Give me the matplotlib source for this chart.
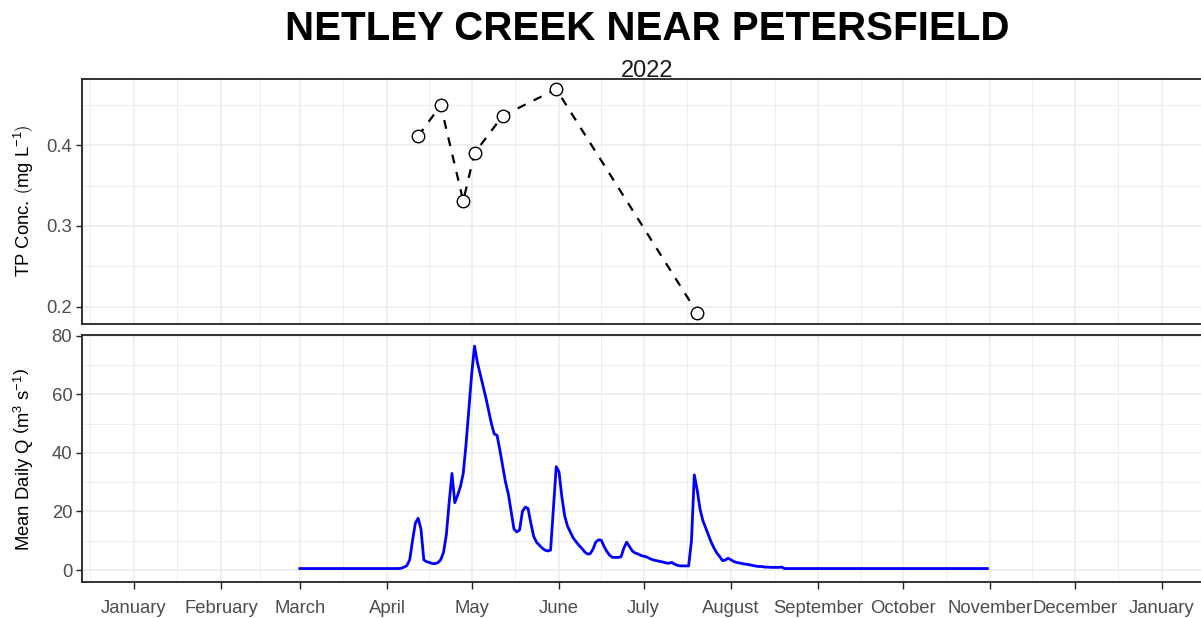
import numpy as np
import pandas as pd
import matplotlib
matplotlib.use('Agg')
import matplotlib.pyplot as plt
import matplotlib.dates as mdates

plt.rcParams['font.family'] = ['Liberation Sans', 'DejaVu Sans']
plt.rcParams['mathtext.fontset'] = 'custom'
plt.rcParams['mathtext.rm'] = 'Liberation Sans'
plt.rcParams['mathtext.it'] = 'Liberation Sans:italic'
plt.rcParams['mathtext.bf'] = 'Liberation Sans:bold'

TITLE = 'NETLEY CREEK NEAR PETERSFIELD'
SUBTITLE = '2022'

# TP grab samples
tp_dates = ['2022-04-12', '2022-04-20', '2022-04-28', '2022-05-02',
            '2022-05-12', '2022-05-31', '2022-07-20']
tp_conc = [0.411, 0.449, 0.331, 0.390, 0.436, 0.469, 0.193]

# mean daily discharge, 1 March - 31 October 2022
q_start = '2022-03-01'
q_mar = [0.5, 0.5, 0.5, 0.5, 0.5, 0.5, 0.5, 0.5, 0.5, 0.5,
         0.5, 0.5, 0.5, 0.5, 0.5, 0.5, 0.5, 0.5, 0.5, 0.5,
         0.5, 0.5, 0.5, 0.5, 0.5, 0.5, 0.5, 0.5, 0.5, 0.5, 0.5]
q_apr = [0.5, 0.5, 0.5, 0.5, 0.5, 0.6, 1.0, 1.5, 3.5, 10.0,
         16.0, 17.7, 14.0, 3.5, 2.8, 2.6, 2.2, 2.2, 2.5, 3.5,
         6.0, 12.0, 23.0, 33.0, 23.0, 25.5, 28.5, 33.0, 43.0, 55.0]
q_may = [67.0, 76.5, 71.0, 67.0, 63.0, 59.0, 54.5, 50.0, 46.5, 46.0,
         41.0, 35.5, 30.0, 26.0, 20.0, 14.0, 13.0, 13.7, 20.0, 21.5,
         21.0, 16.0, 11.5, 9.5, 8.5, 7.5, 6.8, 6.5, 6.8, 21.0, 35.3]
q_jun = [33.5, 25.0, 18.5, 15.0, 13.0, 11.0, 9.7, 8.5, 7.5, 6.3,
         5.5, 5.5, 7.0, 9.5, 10.3, 10.2, 8.0, 6.3, 5.0, 4.3,
         4.3, 4.3, 4.5, 7.5, 9.5, 8.0, 6.5, 5.8, 5.5, 5.0]
q_jul = [4.7, 4.5, 4.0, 3.6, 3.3, 3.1, 2.9, 2.7, 2.4, 2.3,
         2.6, 2.0, 1.6, 1.4, 1.4, 1.4, 1.4, 10.0, 32.5, 27.5,
         21.0, 17.0, 14.5, 12.0, 9.5, 7.5, 5.8, 4.6, 3.2, 3.4, 4.0]
q_aug = [3.5, 2.9, 2.6, 2.4, 2.2, 2.0, 1.9, 1.7, 1.5, 1.3,
         1.2, 1.2, 1.0, 1.0, 0.9, 0.9, 0.9, 0.9, 1.0, 0.5,
         0.5, 0.5, 0.5, 0.5, 0.5, 0.5, 0.5, 0.5, 0.5, 0.5, 0.5]
q_sep = [0.5, 0.5, 0.5, 0.5, 0.5, 0.5, 0.5, 0.5, 0.5, 0.5,
         0.5, 0.5, 0.5, 0.5, 0.5, 0.5, 0.5, 0.5, 0.5, 0.5,
         0.5, 0.5, 0.5, 0.5, 0.5, 0.5, 0.5, 0.5, 0.5, 0.5]
q_oct = [0.5, 0.5, 0.5, 0.5, 0.5, 0.5, 0.5, 0.5, 0.5, 0.5,
         0.5, 0.5, 0.5, 0.5, 0.5, 0.5, 0.5, 0.5, 0.5, 0.5,
         0.5, 0.5, 0.5, 0.5, 0.5, 0.5, 0.5, 0.5, 0.5, 0.5, 0.5]

month_labels = ['January', 'February', 'March', 'April', 'May', 'June', 'July',
                'August', 'September', 'October', 'November', 'December', 'January']
tp_ticks = [0.2, 0.3, 0.4]
tp_minor = [0.25, 0.35, 0.45]
q_ticks = [0, 20, 40, 60, 80]
q_minor = [10, 30, 50, 70]

q_values = q_mar + q_apr + q_may + q_jun + q_jul + q_aug + q_sep + q_oct
q_dates = pd.date_range(q_start, periods=len(q_values), freq='D')
tp_x = pd.to_datetime(tp_dates)

month_starts = pd.date_range('2022-01-01', '2023-01-01', freq='MS')
all_starts = pd.date_range('2021-12-01', '2023-02-01', freq='MS')
mid_months = [a + (b - a) / 2 for a, b in zip(all_starts[:-1], all_starts[1:])]

base = mdates.date2num(pd.Timestamp('2022-01-01'))
xlim = (base - 18.3, base + 383.3)

GRID = '#EBEBEB'
AXC = '#222222'
TXT = '#4D4D4D'
W, H = 1201, 618

fig = plt.figure(figsize=(W / 100, H / 100), dpi=100)
fig.patch.set_facecolor('white')

ax1 = fig.add_axes([82 / W, (H - 324) / H, (1213.6 - 82) / W, 245 / H])
ax2 = fig.add_axes([82 / W, (H - 582) / H, (1213.6 - 82) / W, 247 / H])

for ax in (ax1, ax2):
    ax.set_xlim(xlim)
    ax.set_xticks(mdates.date2num(month_starts))
    ax.set_xticks(mdates.date2num(mid_months), minor=True)
    ax.grid(which='major', color=GRID, linewidth=1.1, zorder=0)
    ax.grid(which='minor', color=GRID, linewidth=0.6, zorder=0)
    ax.set_axisbelow(True)
    for s in ax.spines.values():
        s.set_color(AXC)
        s.set_linewidth(1.3)
    ax.tick_params(which='major', length=4, width=1.0, color=AXC,
                   labelcolor=TXT, labelsize=13.3, pad=3)
    ax.tick_params(which='minor', length=0)

# top: TP concentration
ax1.plot(tp_x, tp_conc, color='black', linewidth=1.6, linestyle=(0, (4, 4)),
         zorder=2)
ax1.plot(tp_x, tp_conc, linestyle='none', marker='o', markersize=9,
         markerfacecolor='white', markeredgecolor='black',
         markeredgewidth=1.0, zorder=3)
ax1.set_ylim(0.179, 0.4815)
ax1.set_yticks(tp_ticks)
ax1.set_yticks(tp_minor, minor=True)
ax1.set_xlim(xlim)
ax1.tick_params(axis='x', which='both', length=0, labelbottom=False)

# bottom: discharge
ax2.plot(q_dates, q_values, color='#0000FF', linewidth=2.0, zorder=2)
ax2.set_ylim(-4.1, 80.3)
ax2.set_yticks(q_ticks)
ax2.set_yticks(q_minor, minor=True)
ax2.set_xlim(xlim)
ax2.set_xticklabels(month_labels)
ax2.tick_params(axis='x', which='major', length=5, pad=8)

fig.text(24 / W, 1 - 201 / H, r'TP Conc. $\left(\mathrm{mg\ L^{-1}}\right)$',
         rotation=90, ha='center', va='center', fontsize=13.3, color='black')
fig.text(24 / W, 1 - 459 / H, r'Mean Daily Q $\left(\mathrm{m^{3}\ s^{-1}}\right)$',
         rotation=90, ha='center', va='center', fontsize=13.3, color='black')

fig.text(647 / W, 1 - 40 / H, TITLE, ha='center', va='baseline',
         fontsize=29, fontweight='bold', color='black')
fig.text(647 / W, 1 - 77 / H, SUBTITLE, ha='center', va='baseline',
         fontsize=17, color='#1A1A1A')

fig.savefig('out.png', dpi=100, facecolor='white')
